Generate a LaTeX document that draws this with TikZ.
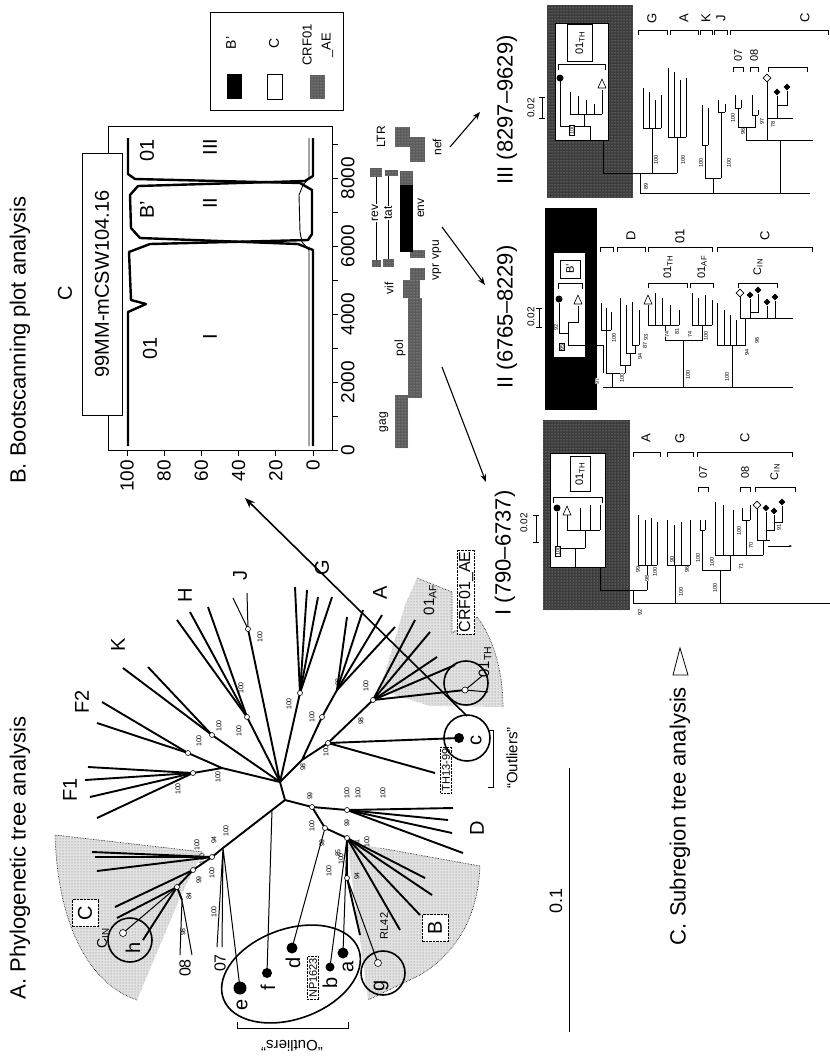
\documentclass[tikz,border=0pt]{standalone}
\usepackage{fontspec}
\setmainfont{Liberation Sans}
\usetikzlibrary{arrows.meta, positioning, shapes.geometric, patterns}
\definecolor{stip}{HTML}{E2E2E2}
\definecolor{darkstip}{HTML}{3C3C3C}
\definecolor{aegray}{HTML}{5C5C5C}
\newcommand{\fs}[1]{\fontsize{#1}{#1}\selectfont}
% bracket over a clade: x1, x2, y (ticks point to the tips)
\newcommand{\brk}[3]{\draw[line width=0.7pt] (#1,#3+5) -- (#1,#3) -- (#2,#3) -- (#2,#3+5);}
% open triangle marker
\newcommand{\ctri}[2]{\draw[line width=0.6pt, fill=white] (#1-4,#2+4) -- (#1,#2-5) -- (#1+4,#2+4) -- cycle;}

\begin{document}
\begin{tikzpicture}[x=1pt, y=-1pt, >=Stealth,
  ptitle/.style={font=\fs{22}, rotate=90, inner sep=0pt},
  clade/.style={font=\fs{20}, rotate=90, inner sep=1pt},
  tiplab/.style={font=\fs{20}, rotate=90, inner sep=0pt},
  bs/.style={font=\fs{7}, rotate=90, inner sep=0.3pt},
  sbs/.style={font=\fs{5.5}, rotate=90, inner sep=0.2pt},
  gene/.style={font=\fs{12}, rotate=90, inner sep=0.3pt},
  sublab/.style={font=\fs{13}, rotate=90, inner sep=0.5pt},
  br/.style={line width=1.9pt},
  tbr/.style={line width=1pt},
  sbr/.style={line width=0.6pt},
  onode/.style={circle, draw, fill=white, line width=0.6pt, inner sep=0pt, minimum size=5pt},
  sdot/.style={circle, fill=black, inner sep=0pt, minimum size=7pt},
  ringc/.style={line width=1.6pt},
  dbox/.style={draw, densely dotted, fill=white, rotate=90, inner sep=1.5pt},
  odiam/.style={diamond, draw, fill=white, line width=0.6pt, inner sep=0pt, minimum size=8pt},
  fdiam/.style={diamond, fill=black, inner sep=0pt, minimum size=7pt},
  lightstip/.style={pattern=dots, pattern color=black!55},
  darkspeck/.style={pattern=dots, pattern color=white!75!black}
]
\fill[white] (0,0) rectangle (830,1061);
\useasboundingbox (0,0) rectangle (830,1061);

% ---------------- B. Bootscanning plot ----------------
\node[ptitle] (titleB) at (20,340) {B. Bootscanning plot analysis};
\draw[line width=0.8pt] (108,126) rectangle (332,450);
\foreach \v [count=\i] in {100,80,60,40,20,0} {
  \draw[line width=0.8pt] ({313-1.86*\v},450) -- ({313-1.86*\v},456);
  \node[font=\fs{19}, rotate=90, anchor=east, inner sep=1pt] (yt\i) at ({313-1.86*\v},459) {\v};
}
\foreach \p in {0,1000,...,9000}
  \draw[line width=0.8pt] (332,{450-0.034*\p}) -- (338,{450-0.034*\p});
\foreach \p [count=\i] in {0,2000,4000,6000,8000}
  \node[font=\fs{19}, rotate=90, anchor=north, inner sep=1pt] (xt\i) at (340,{450-0.034*\p}) {\p};

% curves
\draw[line width=2.4pt, line join=round] (128,446) -- (128,312) -- (146,304) -- (131,300) -- (129,252)
  -- (150,244) -- (308,240) -- (312,234) -- (312,190) -- (300,183) -- (135,179) -- (128,174) -- (128,138);
\draw[line width=2.4pt, line join=round] (313,446) -- (313,250) -- (298,244) -- (140,238) -- (131,228)
  -- (130,195) -- (138,186) -- (305,181) -- (313,176) -- (313,138);
\draw[line width=0.9pt] (309,446) -- (309,250) -- (302,242) -- (300,232) -- (299,195) -- (303,185) -- (309,178) -- (309,138);

\node[font=\fs{20}, rotate=90] (lab01a) at (147,150) {01};
\node[font=\fs{20}, rotate=90] (labIII) at (210,147) {III};
\node[font=\fs{20}, rotate=90] (labB) at (147,210) {B’};
\node[font=\fs{20}, rotate=90] (labII) at (210,203) {II};
\node[font=\fs{20}, rotate=90] (lab01b) at (150,348) {01};
\node[font=\fs{20}, rotate=90] (labI) at (210,337) {I};

\node[draw, fill=white, line width=0.8pt, rotate=90, minimum width=262pt, minimum height=40pt,
  font=\fs{20}, inner sep=0pt] (query) at (102,284) {99MM-mCSW104.16};
\node[font=\fs{20}, rotate=90] (qsub) at (65,293) {C};

% legend
\draw[line width=0.8pt] (210,12) rectangle (343,110);
\node[font=\fs{14}, rotate=90] (lgB) at (231,43) {B’};
\node[font=\fs{14}, rotate=90] (lgC) at (274,43) {C};
\node[font=\fontsize{13}{19}\selectfont, rotate=90, align=center] (lgAE) at (318,45) {CRF01\\\_AE};
\fill (227,74) rectangle (242,99);
\draw[line width=0.8pt] (267,74) rectangle (282,99);
\fill[aegray] (310,75) rectangle (325,99);
\fill[darkspeck] (310,75) rectangle (325,99);

% genome map
\foreach \xa/\ya/\xb/\yb in {395/395/408/448, 408/298/422/398, 403/280/420/298, 410/268/425/280,
  410/250/425/258, 400/171/413/185, 410/137/425/162, 395/127/410/147, 372/260/381/267,
  383/259/394/267, 370/168/382/177, 385/170/398/176} {
  \fill[aegray] (\xa,\ya) rectangle (\xb,\yb);
  \fill[darkspeck] (\xa,\ya) rectangle (\xb,\yb);
}
\fill (400,185) rectangle (413,252);
\draw[line width=0.6pt] (376,177) -- (376,260);
\draw[line width=0.6pt] (388,176) -- (388,259);
\node[gene, fill=white] (gRev) at (375,213) {rev};
\node[gene, fill=white] (gTat) at (388,213) {tat};
\node[gene] (gGag) at (384,422) {gag};
\node[gene] (gPol) at (400,348) {pol};
\node[gene] (gVif) at (389,288) {vif};
\node[gene] (gVpr) at (437,260) {vpr\,\,vpu};
\node[gene] (gEnv) at (421,208) {env};
\node[gene] (gNef) at (437,147) {nef};
\node[gene] (gLtr) at (381,137) {LTR};

% arrows to the subregion trees
\coordinate (aIIIs) at (450,147); \coordinate (aIIIe) at (480,112);
\coordinate (aIIs) at (442,227);  \coordinate (aIIe) at (485,285);
\coordinate (aIs) at (442,367);   \coordinate (aIe) at (486,482);
\draw[->, line width=1.1pt] (aIIIs) -- (aIIIe);
\draw[->, line width=1.1pt] (aIIs) -- (aIIe);
\draw[->, line width=1.1pt] (aIs) -- (aIe);

% ---------------- C. Subregion trees ----------------
\node[ptitle] (titleC) at (680,816) {C. Subregion tree analysis};
\draw[line width=0.8pt] (673,675) -- (680,648) -- (688,675) -- cycle;

% III (8297-9629)
\node[ptitle] (tIII) at (507,110) {III (8297–9629)};
\node[font=\fs{10}, rotate=90] (sIII) at (531,108) {0.02};
\draw[sbr] (542,97) -- (542,118) (539,97) -- (545,97) (539,118) -- (545,118);
\fill[darkstip] (547,5) rectangle (633,198);
\fill[darkspeck] (547,5) rectangle (633,198);
\draw[fill=white, line width=0.6pt] (555,23) rectangle (608,140);
\node[draw, fill=white, rotate=90, font=\fs{11}, minimum width=37pt, minimum height=25pt, inner sep=0pt] (thIII) at (580,43) {01\textsubscript{TH}};
\draw[sbr] (558,70) -- (558,64) -- (605,64) -- (605,70);
\node[sdot] (dotIII) at (560,78) {};
\draw[sbr] (560,80) -- (560,126) -- (590,126);
\draw[sbr] (570,92) -- (570,114) -- (602,114);
\foreach \xx/\yy in {578/96, 586/100, 594/104, 602/90} \draw[sbr] (\xx,\yy) -- (\xx,114);
\draw[sbr] (584,114) -- (584,126);
\ctri{602}{84}
\node[draw, fill=white, sbs, inner sep=0.5pt] (bsIII) at (572,130) {100};
\draw[sbr] (590,126) -- (590,140) (603,140) -- (603,173) -- (677,173);
\foreach \xx/\yy in {643/88, 649/92, 655/100, 661/95} \draw[sbr] (\xx,\yy) -- (\xx,128);
\draw[sbr] (643,128) -- (661,128) (652,128) -- (652,173);
\foreach \xx/\yy in {668/68, 674/72, 680/80, 686/78} \draw[sbr] (\xx,\yy) -- (\xx,137);
\draw[sbr] (668,137) -- (686,137) (677,137) -- (677,173);
\draw[sbr] (640,173) -- (640,193);
\foreach \xx/\yy in {702/105, 708/108} \draw[sbr] (\xx,\yy) -- (\xx,145);
\draw[sbr] (702,145) -- (708,145) (705,145) -- (705,178);
\foreach \xx/\yy in {718/100, 725/104} \draw[sbr] (\xx,\yy) -- (\xx,112);
\draw[sbr] (718,112) -- (725,112) (721,112) -- (721,178) (705,178) -- (721,178) (713,178) -- (713,193);
\foreach \xx/\yy in {735/95, 741/100} \draw[sbr] (\xx,\yy) -- (\xx,108);
\foreach \xx/\yy in {752/95, 758/110} \draw[sbr] (\xx,\yy) -- (\xx,115);
\draw[sbr] (735,108) -- (741,108) (752,115) -- (758,115) (738,108) -- (738,127) -- (755,127) -- (755,115);
\draw[sbr] (746,127) -- (746,140) -- (813,140) (780,140) -- (780,193);
\draw[sbr] (767,82) -- (767,140) (777,96) -- (777,118) (787,91) -- (787,105) -- (777,105) (767,118) -- (793,118);
\node[odiam] (odIII) at (767,78) {};
\node[fdiam] (fdIIIa) at (777,92) {};
\node[fdiam] (fdIIIb) at (787,87) {};
\draw[sbr] (640,193) -- (810,193);
\foreach \xx/\yy/\v [count=\i] in {656/160/100, 683/160/100, 701/163/100, 729/163/100, 646/186/89,
  733/118/100, 743/131/96, 762/121/97, 773/124/78}
  \node[sbs, fill=white] (bsIIIn\i) at (\xx,\yy) {\v};
\brk{638}{667}{30} \brk{670}{698}{30} \brk{700}{712}{30} \brk{714}{727}{30} \brk{730}{828}{30}
\node[sublab] (cIIIG) at (652,18) {G};
\node[sublab] (cIIIA) at (684,18) {A};
\node[sublab] (cIIIK) at (706,18) {K};
\node[sublab] (cIIIJ) at (721,18) {J};
\node[sublab] (cIIIC) at (805,18) {C};
\brk{733}{743}{67} \brk{750}{758}{67} \brk{768}{807}{67}
\node[font=\fs{11}, rotate=90] (cIII07) at (738,55) {07};
\node[font=\fs{11}, rotate=90] (cIII08) at (754,55) {08};

% II (6765-8229)
\node[ptitle] (tII) at (507,317) {II (6765–8229)};
\node[font=\fs{10}, rotate=90] (sII) at (531,317) {0.02};
\draw[sbr] (539,308) -- (539,327) (536,308) -- (542,308) (536,327) -- (542,327);
\fill (545,208) rectangle (597,410);
\draw[fill=white, line width=0.6pt] (553,252) rectangle (585,357);
\node[draw, fill=white, rotate=90, font=\fs{11}, minimum width=18pt, minimum height=20pt, inner sep=0pt] (bII) at (570,269) {B’};
\draw[sbr] (558,289) -- (558,283) -- (582,283) -- (582,289);
\node[sdot] (dotII) at (559,299) {};
\draw[sbr] (559,303) -- (559,333) -- (568,333) (578,306) -- (578,322) -- (568,322) -- (568,345) -- (585,345);
\ctri{578}{300}
\node[sbs, fill=white] (bsII92) at (556,327) {92};
\node[draw, fill=white, sbs, inner sep=0.4pt] (bsII95) at (562,347) {95};
\draw[sbr] (585,345) -- (603,345) (603,345) -- (603,373);
\foreach \xx/\yy in {601/303, 606/308, 611/312} \draw[sbr] (\xx,\yy) -- (\xx,330);
\draw[sbr] (601,330) -- (611,330) (606,330) -- (606,373) -- (625,373) (612,373) -- (612,387);
\foreach \xx/\yy/\yj in {620/298/365, 626/305/353, 632/302/345, 639/310/345} \draw[sbr] (\xx,\yy) -- (\xx,\yj);
\draw[sbr] (632,345) -- (639,345) (635,345) -- (635,353) -- (626,353) (630,353) -- (630,365) -- (620,365) (625,365) -- (625,373);
\ctri{648}{300}
\foreach \xx/\yy in {648/305, 655/293, 662/298, 670/305, 679/310} \draw[sbr] (\xx,\yy) -- (\xx,325);
\draw[sbr] (648,325) -- (679,325);
\foreach \xx/\yy in {692/293, 698/298, 705/295, 712/300} \draw[sbr] (\xx,\yy) -- (\xx,325);
\draw[sbr] (692,325) -- (712,325) (665,325) -- (665,340) -- (702,340) -- (702,325) (683,340) -- (683,387);
\foreach \xx/\yy in {717/303, 724/310, 730/315, 736/320} \draw[sbr] (\xx,\yy) -- (\xx,345);
\draw[sbr] (740,297) -- (740,318) (750,299) -- (750,318) (758,294) -- (758,312) -- (750,312)
  (767,306) -- (767,318) (775,301) -- (775,318) (740,318) -- (793,318) (745,318) -- (745,345) -- (717,345) (732,345) -- (732,387);
\node[odiam] (odII) at (740,293) {};
\node[fdiam] (fdIIa) at (750,295) {};
\node[fdiam] (fdIIb) at (758,290) {};
\node[fdiam] (fdIIc) at (767,302) {};
\node[fdiam] (fdIId) at (775,297) {};
\draw[sbr] (603,387) -- (793,387);
\foreach \xx/\yy/\v [count=\i] in {614/338/100, 622/378/100, 640/356/94, 645/345/87, 646/337/93, 667/334/74,
  677/331/81, 690/334/74, 706/336/100, 688/375/100, 747/352/94, 757/340/96, 727/377/100, 597/381/97}
  \node[sbs, fill=white] (bsIIn\i) at (\xx,\yy) {\v};
\brk{600}{613}{247} \brk{617}{645}{247} \brk{648}{712}{247} \brk{717}{812}{247}
\node[sublab] (cIID) at (631,236) {D};
\node[sublab] (cII01) at (680,236) {01};
\node[sublab] (cIIC) at (765,236) {C};
\brk{648}{687}{283} \brk{690}{713}{283} \brk{738}{777}{283}
\node[font=\fs{11}, rotate=90] (cIITH) at (668,267) {01\textsubscript{TH}};
\node[font=\fs{11}, rotate=90] (cIIAF) at (702,267) {01\textsubscript{AF}};
\node[font=\fs{11}, rotate=90] (cIIIN) at (758,267) {C\textsubscript{IN}};

% I (790-6737)
\node[ptitle] (tI) at (505,553) {I (790–6737)};
\node[font=\fs{10}, rotate=90] (sI) at (524,523) {0.02};
\draw[sbr] (536,515) -- (536,542) (533,515) -- (539,515) (533,542) -- (539,542);
\fill[darkstip] (543,420) rectangle (630,610);
\fill[darkspeck] (543,420) rectangle (630,610);
\draw[fill=white, line width=0.6pt] (550,453) rectangle (605,567);
\node[draw, fill=white, rotate=90, font=\fs{11}, minimum width=35pt, minimum height=20pt, inner sep=0pt] (thI) at (580,474) {01\textsubscript{TH}};
\draw[sbr] (553,503) -- (553,497) -- (602,497) -- (602,503);
\node[sdot] (dotI) at (557,508) {};
\draw[sbr] (557,512) -- (557,548) -- (585,548) (567,515) -- (567,530) -- (600,530);
\foreach \xx/\yy in {580/508, 590/505, 600/505} \draw[sbr] (\xx,\yy) -- (\xx,530);
\draw[sbr] (585,530) -- (585,548) (575,548) -- (575,567) (600,567) -- (600,590) -- (647,590);
\ctri{567}{511}
\node[draw, fill=white, sbs, inner sep=0.4pt] (bsI100) at (558,551) {100};
\foreach \xx/\yy in {638/515, 645/520, 651/518, 657/522} \draw[sbr] (\xx,\yy) -- (\xx,565);
\draw[sbr] (638,565) -- (657,565) (647,565) -- (647,590) (633,590) -- (633,603);
\foreach \xx/\yy in {667/520, 674/525, 681/522, 690/520} \draw[sbr] (\xx,\yy) -- (\xx,565);
\draw[sbr] (667,565) -- (690,565) (675,565) -- (675,603);
\draw[sbr] (700,520) -- (700,530) (705,520) -- (705,530) (700,530) -- (705,530) (702,530) -- (702,570);
\foreach \xx/\yy in {715/502, 723/505, 733/510} \draw[sbr] (\xx,\yy) -- (\xx,555);
\draw[sbr] (742,508) -- (742,520) (750,505) -- (750,520) (742,520) -- (750,520) (746,520) -- (746,555);
\draw[sbr] (757,509) -- (757,540) (766,512) -- (766,540) (774,515) -- (774,530) -- (766,530)
  (782,506) -- (782,522) -- (774,522) (757,540) -- (770,540) (763,540) -- (763,555);
\draw[->, sbr, >={Stealth[length=3pt]}] (768,546) -- (792,546);
\node[odiam] (odI) at (757,505) {};
\node[fdiam] (fdIa) at (766,508) {};
\node[fdiam] (fdIb) at (774,511) {};
\node[fdiam] (fdIc) at (782,502) {};
\draw[sbr] (715,555) -- (763,555) (730,555) -- (730,570) -- (702,570) (720,570) -- (720,603);
\draw[sbr] (633,603) -- (830,603);
\foreach \xx/\yy/\v [count=\i] in {638/569/99, 647/578/98, 655/572/100, 672/559/90, 687/569/96, 681/592/100,
  640/612/92, 698/558/100, 712/562/100, 741/566/71, 739/531/100, 751/545/70, 779/527/91, 715/588/100}
  \node[sbs, fill=white] (bsIn\i) at (\xx,\yy) {\v};
\brk{633}{660}{452} \brk{667}{693}{452} \brk{697}{792}{452}
\node[sublab] (cIA) at (646,438) {A};
\node[sublab] (cIG) at (680,438) {G};
\node[sublab] (cIC) at (745,438) {C};
\brk{698}{708}{487} \brk{740}{750}{487} \brk{755}{795}{487}
\node[font=\fs{11}, rotate=90] (cI07) at (703,472) {07};
\node[font=\fs{11}, rotate=90] (cI08) at (745,472) {08};
\node[font=\fs{11}, rotate=90] (cIIN) at (775,472) {C\textsubscript{IN}};

% ---------------- A. Phylogenetic tree ----------------
\node[ptitle] (titleA) at (20,858) {A. Phylogenetic tree analysis};

% shaded sectors
\fill[stip] (55,835) -- (203,852) -- (182,893) -- (137,1000) .. controls (92,985) and (58,930) .. (55,835);
\fill[lightstip] (55,835) -- (203,852) -- (182,893) -- (137,1000) .. controls (92,985) and (58,930) .. (55,835);
\draw[densely dotted, line width=0.6pt] (55,835) -- (203,852) (137,1000) .. controls (92,985) and (58,930) .. (55,835);
\fill[stip] (347,842) -- (380,848) -- (480,866) .. controls (478,915) and (458,952) .. (420,975) -- (368,1000) -- cycle;
\fill[lightstip] (347,842) -- (380,848) -- (480,866) .. controls (478,915) and (458,952) .. (420,975) -- (368,1000) -- cycle;
\draw[densely dotted, line width=0.6pt] (380,848) -- (480,866) .. controls (478,915) and (458,952) .. (420,975) -- (368,1000);
\fill[stip] (380,690) -- (405,605) -- (417,578) -- (452,592) -- (452,633) -- (477,617)
  .. controls (495,640) and (503,675) .. (503,707) -- (430,706) -- cycle;
\fill[lightstip] (380,690) -- (405,605) -- (417,578) -- (452,592) -- (452,633) -- (477,617)
  .. controls (495,640) and (503,675) .. (503,707) -- (430,706) -- cycle;
\draw[densely dotted, line width=0.6pt] (417,578) -- (452,592) -- (452,633) -- (477,617) .. controls (495,640) and (503,675) .. (503,707);

% tree nodes
\coordinate (r0) at (285,800);  \coordinate (r1) at (280,782);
\coordinate (fN) at (222,768);  \coordinate (f1N) at (193,773); \coordinate (f2N) at (188,753);
\coordinate (kN) at (212,735);  \coordinate (hN) at (247,717);  \coordinate (jN) at (248,629);
\coordinate (gN) at (300,693);  \coordinate (aN0) at (302,760); \coordinate (aN) at (322,717);
\coordinate (aN2) at (337,690); \coordinate (eN) at (328,743);  \coordinate (crfN) at (373,700);
\coordinate (thN) at (465,690); \coordinate (cN0) at (223,848); \coordinate (cN) at (212,857);
\coordinate (cN1) at (193,870); \coordinate (cN2) at (177,887); \coordinate (n08) at (182,900);
\coordinate (fB) at (272,810);  \coordinate (dN0) at (312,807); \coordinate (dN) at (347,810);
\coordinate (bN0) at (325,828); \coordinate (bN1) at (347,838); \coordinate (bN2) at (347,878);

% branches
\draw[br] (r0) -- (r1) -- (fN) -- (f1N) (fN) -- (f2N) (r1) -- (kN) (r1) -- (hN) (r1) -- (jN) (r1) -- (gN);
\foreach \tx/\ty in {88/767, 85/780, 90/797, 97/818} \draw[br] (f1N) -- (\tx,\ty);
\foreach \tx/\ty in {97/723, 102/702} \draw[br] (f2N) -- (\tx,\ty);
\foreach \tx/\ty in {148/667, 123/668} \draw[br] (kN) -- (\tx,\ty);
\foreach \tx/\ty in {177/620, 190/612, 208/607} \draw[br] (hN) -- (\tx,\ty);
\foreach \tx/\ty in {233/598, 247/593} \draw[tbr] (jN) -- (\tx,\ty);
\foreach \tx/\ty in {295/587, 307/590, 318/597, 332/597} \draw[br] (gN) -- (\tx,\ty);
\draw[br] (r1) -- (aN0) -- (aN) -- (aN2) (aN0) -- (eN) -- (crfN) -- (thN);
\foreach \tx/\ty in {347/617, 363/610, 382/615, 395/627} \draw[br] (aN2) -- (\tx,\ty);
\foreach \tx/\ty in {415/620, 430/632, 437/657, 455/665} \draw[br] (crfN) -- (\tx,\ty);
\foreach \tx/\ty in {482/676, 488/692} \draw[tbr] (thN) -- (\tx,\ty);
\draw[br] (eN) -- (459,738) (eN) -- (435,773);
\draw[br] (r0) -- (cN0) -- (cN) -- (cN1) -- (cN2) -- (n08);
\foreach \tx/\ty in {92/852, 95/857, 97/871} \draw[br] (cN) -- (\tx,\ty);
\draw[br] (cN1) -- (115,907) (cN2) -- (117,918) (cN2) -- (143,940);
\draw[tbr] (cN2) -- (123,933) (n08) -- (180,955) (n08) -- (192,955);
\draw[tbr] (cN0) -- (217,947) (cN0) -- (222,947) (cN0) -- (240,988) (fB) -- (267,973);
\draw[br] (r0) -- (dN0) -- (dN) (dN0) -- (bN0) -- (bN1) -- (bN2);
\foreach \tx/\ty in {453/808, 448/820, 452/833, 463/853} \draw[br] (dN) -- (\tx,\ty);
\draw[tbr] (bN0) -- (292,948) (bN1) -- (330,967) (bN1) -- (343,953) (bN2) -- (378,963);
\foreach \tx/\ty in {425/878, 432/895, 420/915, 400/930} \draw[br] (bN1) -- (\tx,\ty);
\draw[br] (bN2) -- (360,935);

% supported nodes
\foreach \n in {f1N, f2N, kN, hN, jN, gN, aN, eN, crfN, cN, cN1, cN2, dN0, bN0, bN1, bN2, dN}
  \node[onode] (o\n) at (\n) {};
\node[onode, minimum size=6pt] (oth) at (thN) {};

% bootstrap values
\foreach \xx/\yy/\v [count=\i] in {218/777/100, 178/789/100, 199/741/100, 219/726/100, 241/688/100, 239/731/100,
  260/637/100, 289/704/100, 312/717/100, 338/682/98, 303/767/98, 326/751/100, 361/721/98, 366/686/100,
  197/845/100, 214/840/94, 202/859/100, 212/873/100, 199/880/99, 189/896/84, 183/932/98, 226/831/100,
  214/912/100, 310/796/99, 312/826/100, 322/843/99, 347/823/99, 338/853/85, 357/843/81, 329/871/100,
  341/859/100, 357/876/94, 367/842/100, 347/793/100, 358/793/100, 383/793/100}
  \node[bs] (bsA\i) at (\xx,\yy) {\v};

% clade labels
\node[clade] (cF1) at (70,790) {F1};
\node[clade] (cF2) at (82,702) {F2};
\node[clade] (cK) at (118,645) {K};
\node[clade] (cH) at (185,595) {H};
\node[clade] (cJ) at (240,575) {J};
\node[clade] (cG) at (322,568) {G};
\node[clade] (cA) at (380,593) {A};
\node[clade] (cD) at (477,828) {D};
\node[dbox, font=\fs{20}, minimum width=27pt, minimum height=26pt] (boxC) at (85,913) {C};
\node[dbox, font=\fs{20}, minimum width=27pt, minimum height=26pt] (boxB) at (435,928) {B};
\node[font=\fs{14}, rotate=90] (cIN) at (103,938) {C\textsubscript{IN}};
\node[font=\fs{16}, rotate=90] (c07) at (220,963) {07};
\node[font=\fs{16}, rotate=90] (c08) at (185,968) {08};
\node[dbox, font=\fs{16}] (crfLab) at (466,592) {CRF01\_AE};
\node[font=\fs{15}, rotate=90] (afLab) at (430,600) {01\textsubscript{AF}};
\node[font=\fs{15}, rotate=90] (thLab) at (485,662) {01\textsubscript{TH}};
\node[dbox, font=\fs{11}] (npLab) at (313,978) {NP1623};
\node[dbox, font=\fs{11}] (lhLab) at (446,770) {TH13-99};
\node[font=\fs{11}, rotate=90] (rlLab) at (384,926) {RL42};

% outlier taxa
\node[circle, fill=black, inner sep=0pt, minimum size=13pt] (te) at (240,988) {};
\node[circle, fill=black, inner sep=0pt, minimum size=10pt] (tf) at (267,973) {};
\node[circle, fill=black, inner sep=0pt, minimum size=11pt] (td) at (292,948) {};
\node[circle, fill=black, inner sep=0pt, minimum size=9pt] (tb) at (330,967) {};
\node[circle, fill=black, inner sep=0pt, minimum size=11pt] (ta) at (343,953) {};
\node[circle, fill=black, inner sep=0pt, minimum size=10pt] (tc) at (459,738) {};
\node[onode, minimum size=7pt] (th) at (123,933) {};
\node[onode, minimum size=7pt] (tg) at (378,963) {};
\node[tiplab] (le) at (242,1005) {e};
\node[tiplab] (lf) at (268,988) {f};
\node[tiplab] (ld) at (293,963) {d};
\node[tiplab] (lb) at (330,983) {b};
\node[tiplab] (la) at (348,967) {a};
\node[tiplab] (lc) at (476,740) {c};
\node[tiplab] (lg) at (381,986) {g};
\node[tiplab] (lh) at (133,948) {h};

% rings
\draw[ringc] (130,940) circle (22);
\draw[ringc] (383,973) circle (22);
\draw[ringc] (467,738) circle (23);
\draw[ringc] (466,683) circle (22);
\draw[ringc, rotate around={20:(291,974)}] (291,974) ellipse (72 and 45);

% outlier brackets
\draw[line width=0.8pt] (488,730) -- (493,730) -- (493,787) -- (488,787);
\node[font=\fs{15}, rotate=90] (outR) at (512,758) {“Outliers”};
\draw[line width=0.8pt] (237,1022) -- (237,1028) -- (348,1028) -- (348,1022);
\node[font=\fs{15}, rotate=180] (outB) at (292,1046) {“Outliers”};

% link from the c outlier to the bootscan plot
\coordinate (lnkS) at (467,716);
\coordinate (lnkE) at (245,498);
\draw[->, line width=1.6pt] (lnkS) -- (lnkE);

% scale bar
\coordinate (sbTop) at (569,768);
\coordinate (sbBot) at (569,1032);
\draw[line width=1pt] (sbTop) -- (sbBot);
\node[font=\fs{18}, rotate=90] (sbLab) at (556,901) {0.1};
\end{tikzpicture}
\end{document}
